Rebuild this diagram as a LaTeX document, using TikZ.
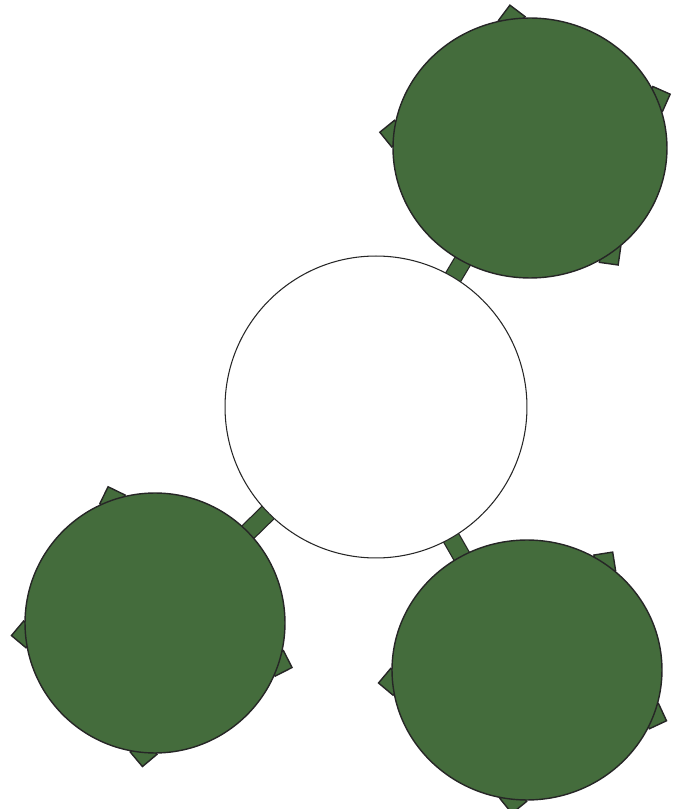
\documentclass[tikz,border=0pt]{standalone}
\usepackage{tikz}
\usetikzlibrary{shapes.geometric}
\usetikzlibrary{backgrounds}

\definecolor{leafgreen}{RGB}{68,108,60}

\begin{document}
\begin{tikzpicture}[
    x=0.02cm, y=0.02cm,
    hub/.style={circle, draw=black!85, fill=white, line width=0.6pt, minimum size=6.04cm, inner sep=0pt},
    pad/.style={ellipse, draw=black!85, fill=leafgreen, line width=0.8pt, inner sep=0pt},
    notch/.style={rectangle, draw=black!85, fill=leafgreen, line width=0.8pt, minimum size=0.38cm, inner sep=0pt},
    stub/.style={draw=black!85, line width=0.7pt, double=leafgreen, double distance=0.32cm}
]
\useasboundingbox (0,0) rectangle (677,809);

% Centre: empty circle
\node[hub] (hub) at (376,402) {};

% Green pads round it
\node[pad, minimum width=5.48cm, minimum height=5.2cm] (tr) at (530,661) {};
\node[pad, minimum width=5.2cm, minimum height=5.2cm] (bl) at (155,186) {};
\node[pad, minimum width=5.4cm, minimum height=5.2cm] (br) at (527,139) {};

% Stubs and notches behind the pads
\begin{scope}[on background layer]
\draw[stub] (hub.center) -- (tr.center);
\draw[stub] (hub.center) -- (bl.center);
\draw[stub] (hub.center) -- (br.center);

\foreach \a [count=\i] in {98,21,174,307}
    \node[notch, rotate=\a+45] (tr-n\i) at (tr.\a) {};
\foreach \a [count=\i] in {109,185,342,265}
    \node[notch, rotate=\a+45] (bl-n\i) at (bl.\a) {};
\foreach \a [count=\i] in {54,185,340,264}
    \node[notch, rotate=\a+45] (br-n\i) at (br.\a) {};
\end{scope}

\end{tikzpicture}
\end{document}
